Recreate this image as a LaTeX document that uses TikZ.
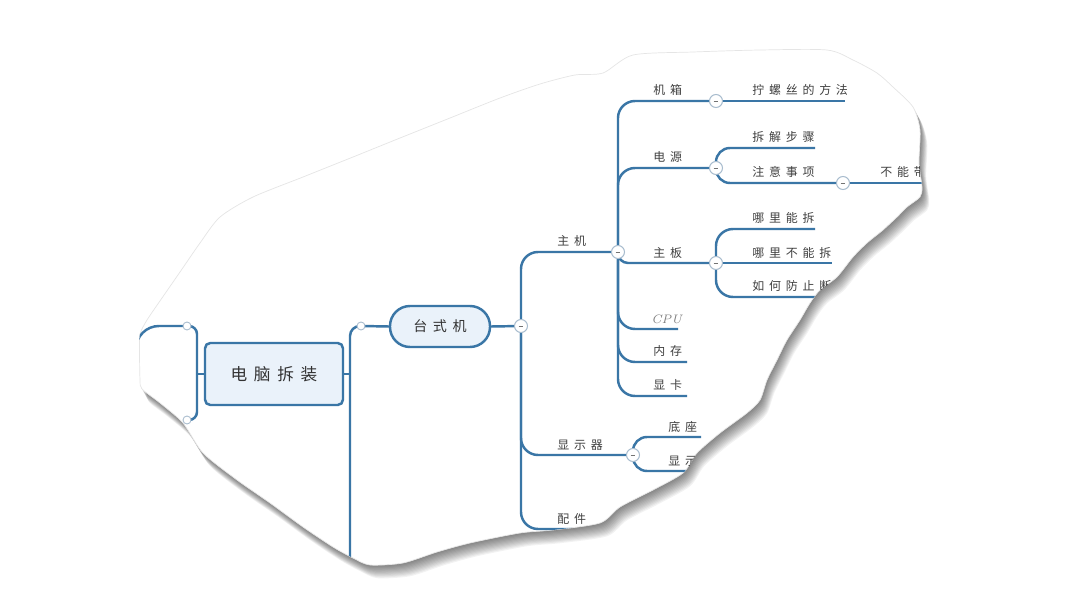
\documentclass[tikz,border=0pt]{standalone}
\usepackage{fontspec}
\newfontfamily\cjk[LetterSpace=40]{Noto Sans CJK SC}
\definecolor{mapblue}{HTML}{3A76A6}
\definecolor{nodefill}{HTML}{EAF2FA}
\definecolor{knob}{HTML}{A8BCCE}
% torn sheet outline, in pixels
\newcommand{\paperpath}[1]{\path[#1] plot[smooth cycle,tension=0.45] coordinates {
  (140,380) (139.5,350) (140,334) (147,320) (162,298) (180,272) (200,243) (220,217) (253,197)
  (303,177) (353,157) (400,138) (450,118) (500,98) (540,84) (575,75) (603,73)
  (633,55) (693,52) (760,50) (827,50) (853,60) (877,73) (893,87) (913,107)
  (920,130) (919,163) (922,187) (920,197) (907,207) (897,217) (883,230) (867,243)
  (853,257) (837,277) (820,290) (810,303) (800,320) (787,340) (777,360) (767,380)
  (760,400) (747,413) (720,433) (697,453) (683,473) (653,490) (620,507) (600,523)
  (553,530) (520,533) (470,543) (437,552) (403,563) (370,565) (353,558) (333,547)
  (303,527) (270,503) (237,480) (203,453) (183,423) (160,403) (142,389)};}
\tikzset{
  branch/.style={draw=mapblue, line width=1.4pt, rounded corners=#1},
  branch/.default=0.34cm,
  tag/.style={font=\cjk\fontsize{6.8}{8}\selectfont, text=black!75, inner sep=0pt, anchor=base west},
  fold/.style={circle, draw=knob, fill=white, line width=0.6pt, minimum size=0.26cm, inner sep=0pt,
    path picture={\draw[black!55,line width=0.5pt] ([xshift=-1.4pt]path picture bounding box.center)
      -- ([xshift=1.4pt]path picture bounding box.center);}},
  knot/.style={circle, draw=knob, fill=white, line width=0.5pt, minimum size=0.16cm, inner sep=0pt},
  topic/.style={draw=mapblue, fill=nodefill, line width=1.4pt, rounded corners=3pt, text=black!80,
    minimum width=2.76cm, minimum height=1.24cm, font=\cjk\fontsize{9.5}{11}\selectfont},
  subtopic/.style={draw=mapblue, fill=nodefill, line width=1.4pt, rounded corners=0.4cm, text=black!80,
    minimum width=2.0cm, minimum height=0.82cm, font=\cjk\fontsize{8}{10}\selectfont}
}
\begin{document}
\begin{tikzpicture}[x=0.02cm, y=-0.02cm]
  \useasboundingbox (0,0) rectangle (1080,608);
  % shadow and sheet
  \foreach \s in {1,...,12}{\paperpath{fill=black, opacity=0.05, shift={(0.6*\s,1.1*\s)}}}
  \paperpath{fill=white, draw=black!10, line width=0.4pt}

  \begin{scope}
  \paperpath{clip}
  % main nodes
  \node[topic] (root) at (274,374) {电脑拆装};
  \node[subtopic] (desk) at (440,326.5) {台式机};
  % joints
  \coordinate (lTop) at (187,326);
  \coordinate (lBot) at (187,420);
  \coordinate (lBar) at (197,374);
  \coordinate (lOut) at (136,420);
  \coordinate (rTop) at (361,326);
  \coordinate (rBar) at (350,374);
  \coordinate (rEnd) at (350,600);
  \coordinate (fDesk) at (521,326);
  \coordinate (fHost) at (618,252);
  \coordinate (fMon) at (633,455);
  \coordinate (fCase) at (716,101);
  \coordinate (fPower) at (716,168);
  \coordinate (fBoard) at (716,263);
  \coordinate (fNote) at (843,183);
  % leaf ends
  \coordinate (eParts) at (600,529);
  \coordinate (eCPU) at (678,329);
  \coordinate (eRAM) at (687,362);
  \coordinate (eGPU) at (687,396);
  \coordinate (eScrew) at (845,101);
  \coordinate (eSteps) at (815,148);
  \coordinate (eNoBring) at (960,183);
  \coordinate (eRemove) at (815,229);
  \coordinate (eNoRemove) at (832,263);
  \coordinate (eProtect) at (870,297);
  \coordinate (eBase) at (701,437);
  \coordinate (eScreen) at (730,471);

  % left of the root
  \draw[branch=0.16cm] (lTop) -| (lBar) |- (lBot);
  \draw[branch] (lBar) -- (root.west);
  \draw[branch=0.46cm] (lTop) -| (lOut);
  % right of the root
  \draw[branch] (root.east) -- (rBar);
  \draw[branch=0.2cm] (rEnd) |- (rTop);
  \draw[branch] (rTop) -- (desk.west);
  \draw[branch] (desk.east) -- (fDesk);
  % desktop
  \draw[branch] (fDesk) |- (fHost);
  \draw[branch] (fDesk) |- (fMon);
  \draw[branch] (fDesk) |- (eParts);
  % host
  \draw[branch] (fHost) |- (fCase);
  \draw[branch] (fHost) |- (fPower);
  \draw[branch=0.2cm] (fHost) |- (fBoard);
  \draw[branch] (fHost) |- (eCPU);
  \draw[branch] (fHost) |- (eRAM);
  \draw[branch] (fHost) |- (eGPU);
  \draw[branch] (fCase) -- (eScrew);
  \draw[branch=0.28cm] (fPower) |- (eSteps);
  \draw[branch=0.28cm] (fPower) |- (fNote);
  \draw[branch] (fNote) -- (eNoBring);
  \draw[branch] (fBoard) |- (eRemove);
  \draw[branch] (fBoard) -- (eNoRemove);
  \draw[branch] (fBoard) |- (eProtect);
  % monitor
  \draw[branch=0.28cm] (fMon) |- (eBase);
  \draw[branch=0.28cm] (fMon) |- (eScreen);

  % knobs
  \node[knot] (kLTop) at (lTop) {};
  \node[knot] (kLBot) at (lBot) {};
  \node[knot] (kRTop) at (rTop) {};
  \foreach \f in {fDesk,fHost,fMon,fCase,fPower,fBoard,fNote}{\node[fold] (k\f) at (\f) {};}

  % labels
  \node[tag] (tHost) at (557,246) {主机};
  \node[tag] (tMon) at (557,449) {显示器};
  \node[tag] (tParts) at (557,523) {配件};
  \node[tag] (tCase) at (653,95) {机箱};
  \node[tag] (tPower) at (653,162) {电源};
  \node[tag] (tBoard) at (653,257) {主板};
  \node[tag, font=\itshape\fontsize{7}{8}\selectfont, text=black!50] (tCPU) at (651,323) {CPU};
  \node[tag] (tRAM) at (653,356) {内存};
  \node[tag] (tGPU) at (653,390) {显卡};
  \node[tag] (tScrew) at (752,95) {拧螺丝的方法};
  \node[tag] (tSteps) at (752,142) {拆解步骤};
  \node[tag] (tNote) at (752,177) {注意事项};
  \node[tag] (tNoBring) at (880,177) {不能带};
  \node[tag] (tRemove) at (752,223) {哪里能拆};
  \node[tag] (tNoRemove) at (752,257) {哪里不能拆};
  \node[tag] (tProtect) at (752,291) {如何防止断};
  \node[tag] (tBase) at (668,431) {底座};
  \node[tag] (tScreen) at (668,465) {显示};
  \end{scope}
\end{tikzpicture}
\end{document}
